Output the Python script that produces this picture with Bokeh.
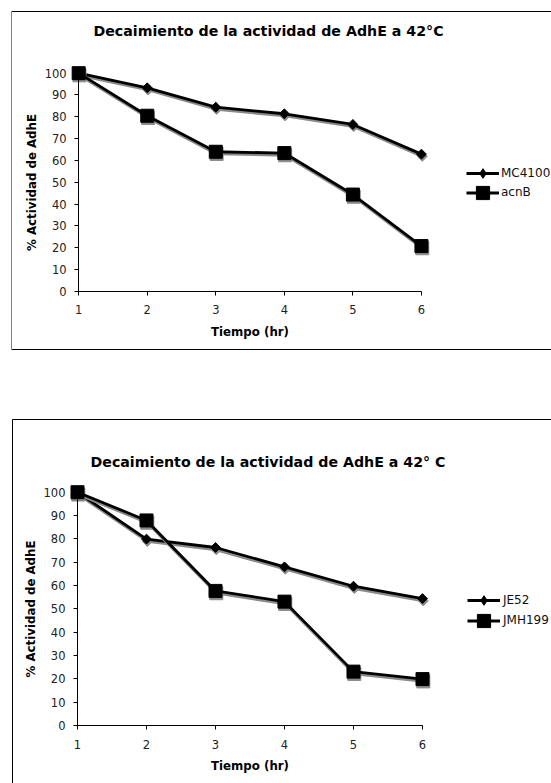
from bokeh.plotting import figure
from bokeh.models import (ColumnDataSource, Range1d, Legend, LegendItem, Label,
                          FixedTicker, BoxAnnotation)
from bokeh.layouts import column
from bokeh.transform import dodge
from bokeh.embed import file_html
from bokeh.resources import INLINE

# ---------------- data ----------------
tiempo = [1, 2, 3, 4, 5, 6]
mc4100 = [100, 93.3, 84.4, 81.4, 76.5, 62.9]
acnb = [100, 80.5, 64.0, 63.4, 44.4, 20.8]
je52 = [100, 79.9, 76.3, 68.0, 59.7, 54.4]
jmh199 = [100, 87.9, 57.7, 53.1, 23.1, 19.9]

titulo_1 = "Decaimiento de la actividad de AdhE a 42°C"
titulo_2 = "Decaimiento de la actividad de AdhE a 42° C"
x_label = "Tiempo (hr)"
y_label = "% Actividad de AdhE"
x_ticks = [1, 2, 3, 4, 5, 6]
y_ticks = [0, 10, 20, 30, 40, 50, 60, 70, 80, 90, 100]

FONT = "DejaVu Sans"
SHADOW = "#8a8a8a"


def make_legend(item, loc, glyph_h, standoff):
    return Legend(items=[item], location=loc, border_line_alpha=0,
                  background_fill_alpha=0, padding=0, margin=0, spacing=0,
                  glyph_width=33, glyph_height=glyph_h, label_height=glyph_h,
                  label_standoff=standoff, label_text_font=FONT,
                  label_text_font_size="12px", label_text_color="#111111")


def make_chart(title, names, series, height, frame_left, frame_top, min_bottom,
               x_rng, y_rng, title_xy, box, legend_locs, legend_standoff):
    p = figure(width=551, height=height, output_backend="svg", toolbar_location=None,
               x_range=Range1d(*x_rng), y_range=Range1d(*y_rng),
               min_border_left=frame_left, min_border_right=0,
               min_border_top=frame_top, min_border_bottom=min_bottom)
    p.outline_line_color = None
    p.xgrid.visible = False
    p.ygrid.visible = False
    p.background_fill_color = "white"
    p.border_fill_color = "white"

    for ax in (p.xaxis, p.yaxis):
        ax.major_tick_in = 0
        ax.major_tick_out = 4
        ax.minor_tick_line_color = None
        ax.axis_line_color = "#000000"
        ax.major_tick_line_color = "#000000"
        ax.major_label_text_font = FONT
        ax.major_label_text_font_size = "11.5px"
        ax.major_label_text_color = "#222222"
        ax.axis_label_text_font = FONT
        ax.axis_label_text_font_size = "11.8px"
        ax.axis_label_text_font_style = "bold"
        ax.axis_label_text_color = "#000000"
    p.xaxis.ticker = FixedTicker(ticks=x_ticks)
    p.yaxis.ticker = FixedTicker(ticks=y_ticks)
    p.xaxis.bounds = (x_ticks[0], x_ticks[-1])
    p.yaxis.bounds = (y_ticks[0], y_ticks[-1])
    p.yaxis.fixed_location = x_ticks[0]
    p.xaxis.fixed_location = y_ticks[0]
    p.xaxis.axis_label = x_label
    p.yaxis.axis_label = y_label
    p.xaxis.major_label_standoff = 10
    p.yaxis.major_label_standoff = 8
    p.xaxis.axis_label_standoff = 7
    p.yaxis.axis_label_standoff = 3

    # chart-area border (left, top, bottom edges; right edge lies past the window)
    p.add_layout(BoxAnnotation(left=box[0], right=box[1], top=box[2], bottom=box[3],
                               left_units="canvas", right_units="canvas",
                               top_units="canvas", bottom_units="canvas",
                               fill_alpha=0, line_color="#000000", line_alpha=1.0,
                               line_width=1))

    # (plot marker, plot size, angle, legend-proxy marker, legend glyph height)
    styles = [("square", 7, 0.7853981634, "diamond", 24),
              ("square", 13, 0.0, "square", 33)]
    for (name, vals), (mk, sz, ang, lmk, gh), loc in zip(zip(names, series), styles, legend_locs):
        src = ColumnDataSource(dict(x=tiempo, y=vals))
        # drop shadow
        p.line(dodge("x", 0.012), dodge("y", -1.0), source=src, line_color=SHADOW, line_width=2.8)
        p.scatter(dodge("x", 0.012), dodge("y", -1.0), source=src, marker=mk, size=sz, angle=ang,
                  fill_color=SHADOW, line_color=SHADOW)
        ln = p.line("x", "y", source=src, line_color="black", line_width=2.8)
        p.scatter("x", "y", source=src, marker=mk, size=sz, angle=ang,
                  fill_color="black", line_color="black")
        # hidden proxy used only to draw the legend key's marker
        proxy = p.scatter("x", "y", source=src, marker=lmk, size=sz,
                          fill_color="black", line_color="black", visible=False)
        p.add_layout(make_legend(LegendItem(label=name, renderers=[ln, proxy]), loc, gh,
                                 legend_standoff))

    lab = Label(x=title_xy[0], y=title_xy[1], x_units="canvas", y_units="canvas",
                text=title, text_align="center", text_baseline="middle",
                text_font=FONT, text_font_style="bold", text_font_size="14.2px",
                text_color="#000000")
    p.add_layout(lab)
    return p


p1 = make_chart(titulo_1, ["MC4100", "acnB"], [mc4100, acnb], height=390,
                frame_left=10, frame_top=10, min_bottom=40,
                x_rng=(0.0201, 7.897), y_rng=(-27.03, 128.7),
                title_xy=(268, 30.7), box=(11, 3000, 11, 349),
                legend_locs=[(455, 165), (455, 141.5)], legend_standoff=2)
p2 = make_chart(titulo_2, ["JE52", "JMH199"], [je52, jmh199], height=393,
                frame_left=11, frame_top=28, min_bottom=0,
                x_rng=(0.0435, 7.8696), y_rng=(-24.86, 131.6),
                title_xy=(267.5, 71), box=(12, 3000, 29, 3000),
                legend_locs=[(456, 171), (456, 146.5)], legend_standoff=3)

layout = column(p1, p2, spacing=0)
open("out.html", "w").write(file_html(layout, INLINE))
